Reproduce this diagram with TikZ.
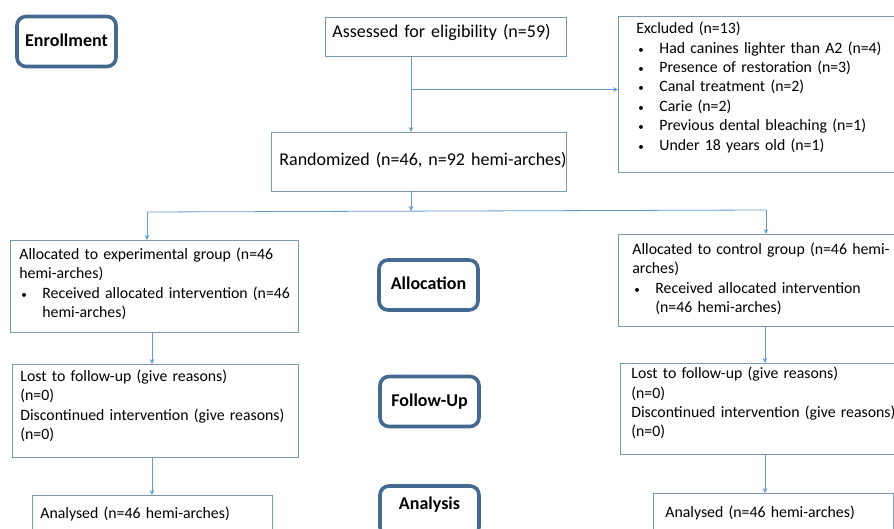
\documentclass[tikz,border=0pt]{standalone}
\usepackage{fontspec}
\setmainfont{Carlito}
\usetikzlibrary{arrows.meta}

\definecolor{boxc}{RGB}{125,150,178}
\definecolor{stagec}{RGB}{68,106,146}
\definecolor{linkc}{RGB}{100,155,210}

\newcommand\bodyfont{\fontsize{15.8}{19.4}\selectfont}
\newcommand\bigfont{\fontsize{18}{21}\selectfont}
\newcommand\bul{\hspace*{2pt}\makebox[21pt][l]{\fontsize{11}{11}\selectfont\textbullet}}
\newcommand\hang{\hspace*{23pt}}

\tikzset{
  box/.style={draw=boxc, line width=0.8pt, anchor=north west, align=left,
    inner ysep=0pt, font=\bodyfont},
  stage/.style={draw=stagec, line width=3.6pt, rounded corners=9pt,
    minimum width=99pt, minimum height=50pt, inner sep=0pt,
    font=\bfseries\fontsize{18}{20}\selectfont, text height=13pt, text depth=3pt},
  link/.style={draw=linkc, line width=0.8pt},
  arr/.style={link, -{Stealth[length=5pt,width=4.5pt]}}
}

\begin{document}
\begin{tikzpicture}[x=1pt,y=-1pt]
        \path[use as bounding box, fill=white] (0,0) rectangle (894,529);

        % stage labels
        \node[stage] (enrol) at (66.5,41.5) {Enrollment};
        \node[stage] (alloc) at (428.5,285) {Allocation};
        \node[stage] (follow) at (429.5,401.5) {Follow-Up};
        \node[stage, text depth=16pt] (analysis) at (429.5,511) {Analysis};

        % boxes
        \node[box, font=\bigfont, inner xsep=7pt, text width=227pt, text height=20.3pt, text depth=18.7pt]
            (assess) at (325,17) {\mbox{Assessed for eligibility (n=59)}};
        \node[box, inner xsep=18pt, text width=300pt, text height=17.3pt, text depth=138.7pt]
            (excl) at (618,16) {Excluded (n=13)\\
            \bul Had canines lighter than A2 (n=4)\\
            \bul Presence of restoration (n=3)\\
            \bul Canal treatment (n=2)\\
            \bul Carie (n=2)\\
            \bul Previous dental bleaching (n=1)\\
            \bul Under 18 years old (n=1)};
        \node[box, font=\bigfont, inner xsep=8pt, text width=279pt, text height=33pt, text depth=26pt]
            (rand) at (271,132) {\mbox{Randomized (n=46, n=92 hemi-arches)}};

        \node[box, inner xsep=9pt, text width=270pt, text height=19pt, text depth=73pt]
            (exp) at (10,240) {\mbox{Allocated to experimental group (n=46}\\
            hemi-arches)\\
            \mbox{\bul Received allocated intervention (n=46}\\
            \hang hemi-arches)};
        \node[box, inner xsep=14pt, text width=272pt, text height=20pt, text depth=72pt]
            (ctrl) at (618,234) {\mbox{Allocated to control group (n=46 hemi-}\\
            arches)\\
            \bul Received allocated intervention\\
            \hang (n=46 hemi-arches)};

        \node[box, inner xsep=8pt, text width=270pt, text height=17pt, text depth=76pt]
            (lostL) at (12,364) {Lost to follow-up (give reasons)\\
            (n=0)\\
            \mbox{Discontinued intervention (give reasons)}\\
            (n=0)};
        \node[box, inner xsep=11pt, text width=278pt, text height=15.3pt, text depth=75.7pt]
            (lostR) at (620,363) {Lost to follow-up (give reasons)\\
            (n=0)\\
            \mbox{Discontinued intervention (give reasons)}\\
            (n=0)};

        \node[box, inner xsep=8pt, text width=224pt, text height=23pt, text depth=37pt]
            (anL) at (32,495) {Analysed (n=46 hemi-arches)};
        \node[box, inner xsep=12pt, text width=216pt, text height=23.7pt, text depth=36.3pt]
            (anR) at (653,493) {Analysed (n=46 hemi-arches)};

        % connectors
        \coordinate (split) at (411,89.5);
        \coordinate (fork) at (411,211);
        \coordinate (forkL) at (147,212);
        \coordinate (forkR) at (766,210);
        \coordinate (colL) at (152,0);
        \coordinate (colR) at (765,0);

        \draw[link] (assess.south -| split) -- (split);
        \draw[arr] (split) -- (rand.north -| split);
        \draw[arr] (split) -- (excl.west |- split);
        \draw[arr] (rand.south -| fork) -- (fork);
        \draw[link] (forkL) -- (forkR);
        \draw[arr] (forkL) -- (exp.north -| forkL);
        \draw[arr] (forkR) -- (ctrl.north -| forkR);
        \draw[arr] (exp.south -| colL) -- (lostL.north -| colL);
        \draw[arr] (ctrl.south -| colR) -- (lostR.north -| colR);
        \draw[arr] (lostL.south -| colL) -- (anL.north -| colL);
        \draw[arr] (lostR.south -| colR) -- (anR.north -| colR);
    \end{tikzpicture}
\end{document}
